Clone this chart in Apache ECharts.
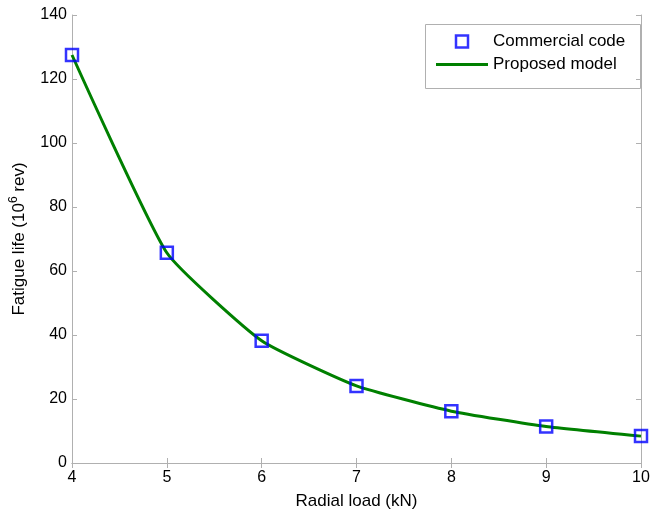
<!DOCTYPE html>
<html><head><meta charset="utf-8">
<script src="https://cdn.jsdelivr.net/npm/echarts@6/dist/echarts.min.js"></script>
<style>html,body{margin:0;padding:0;background:#fff}#c{width:650px;height:511px}</style>
</head><body><div id="c"></div>
<script>
const loads = [4, 5, 6, 7, 8, 9, 10];
const commercial = [127.5, 65.7, 38.2, 24.1, 16.2, 11.4, 8.4];
const proposed = [127.5, 65.7, 38.2, 24.1, 16.2, 11.4, 8.4];
const xTicks = [4, 5, 6, 7, 8, 9, 10];
const yTicks = [0, 20, 40, 60, 80, 100, 120, 140];

const font = 'Liberation Sans, Arial, sans-serif';
const axisColor = '#b0b0b0';
const chart = echarts.init(document.getElementById('c'));
const baseAxis = {
  axisLine: {show: true, lineStyle: {color: axisColor, width: 1}},
  axisTick: {show: true, inside: true, length: 5, lineStyle: {color: axisColor}},
  splitLine: {show: false}
};
chart.setOption({
  animation: false,
  backgroundColor: '#fff',
  grid: {left: 72, right: 9, top: 15, bottom: 48, containLabel: false, outerBoundsMode: 'none'},
  xAxis: [
    Object.assign({}, baseAxis, {type: 'value', min: xTicks[0], max: xTicks[xTicks.length - 1], interval: 1,
      axisLabel: {color: '#000', fontSize: 16, fontFamily: font, margin: 7},
      name: 'Radial load (kN)', nameLocation: 'middle', nameGap: 30,
      nameTextStyle: {color: '#000', fontSize: 17, fontFamily: font}}),
    Object.assign({}, baseAxis, {type: 'value', min: xTicks[0], max: xTicks[xTicks.length - 1], interval: 1, position: 'top',
      axisLabel: {show: false}})
  ],
  yAxis: [
    Object.assign({}, baseAxis, {type: 'value', min: yTicks[0], max: yTicks[yTicks.length - 1], interval: 20,
      axisLabel: {color: '#000', fontSize: 16, fontFamily: font, margin: 5},
      name: '{n|Fatigue life (10}{s|6}{n| rev)}', nameLocation: 'middle', nameGap: 42, nameRotate: 90,
      nameTextStyle: {color: '#000', fontSize: 17, fontFamily: font,
        rich: {n: {fontSize: 17, fontFamily: font, color: '#000'},
               s: {fontSize: 12, fontFamily: font, color: '#000', verticalAlign: 'top', padding: [0, 0, 10, 0]}}}}),
    Object.assign({}, baseAxis, {type: 'value', min: yTicks[0], max: yTicks[yTicks.length - 1], interval: 20, position: 'right',
      axisLabel: {show: false}})
  ],
  legend: {
    orient: 'vertical', left: 436, top: 33, itemWidth: 52, itemHeight: 12, itemGap: 6,
    padding: 0,
    textStyle: {color: '#000', fontSize: 17, fontFamily: font},
    data: [
      {name: 'Commercial code', icon: 'path://M0,0L10,0L10,10L0,10Z',
       itemStyle: {color: '#fff', borderColor: '#0000ff', borderWidth: 2.5}},
      {name: 'Proposed model', icon: 'path://M0,0L52,0L52,3L0,3Z',
       itemStyle: {color: '#008000', borderWidth: 0}}
    ]
  },
  graphic: [{type: 'rect', shape: {x: 425.5, y: 24.5, width: 215, height: 64},
    style: {fill: null, stroke: '#b0b0b0', lineWidth: 1}, z: 100}],
  series: [
    {name: 'Proposed model', type: 'line', data: loads.map((x, i) => [x, proposed[i]]),
     smooth: 0.15, symbol: 'none', lineStyle: {color: '#008000', width: 3}, itemStyle: {color: '#008000'}, z: 2},
    {name: 'Commercial code', type: 'scatter', data: loads.map((x, i) => [x, commercial[i]]),
     symbol: 'rect', symbolSize: 12,
     itemStyle: {color: 'rgba(0,0,0,0)', borderColor: '#0000ff', borderWidth: 2.5}, z: 3}
  ]
});
</script></body></html>
